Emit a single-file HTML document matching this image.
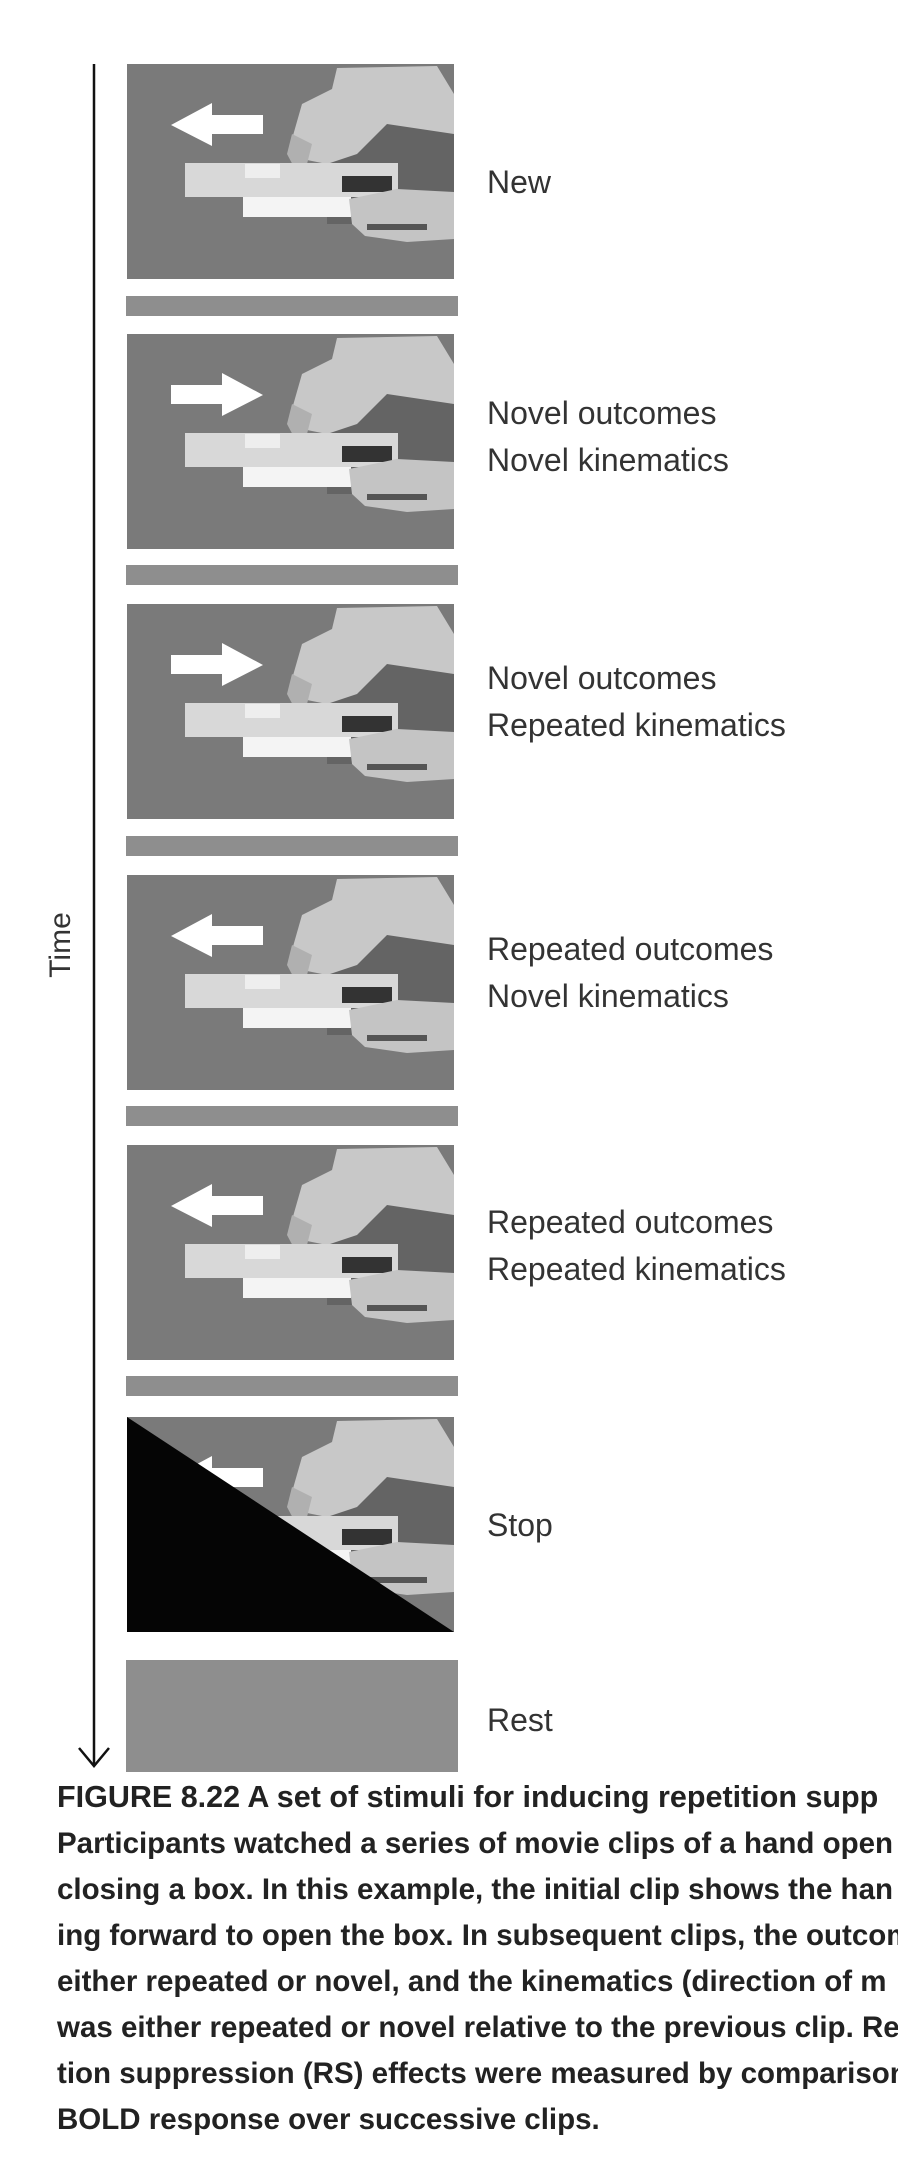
<!DOCTYPE html>
<html><head><meta charset="utf-8"><style>
html,body{margin:0;padding:0;background:#fff;}
svg{display:block;}
</style></head><body>
<svg width="898" height="2174" viewBox="0 0 898 2174" xmlns="http://www.w3.org/2000/svg">
<defs>
<g id="base">
  <rect x="0" y="0" width="327" height="215" fill="#7a7a7a"/>
  <rect x="200" y="60" width="127" height="100" fill="#555" opacity="0.6"/>
  <polygon points="210,4 310,2 327,30 327,70 260,60 230,90 200,100 175,95 165,75 175,40 205,25" fill="#c8c8c8"/>
  <polygon points="165,70 185,80 180,100 168,105 160,90" fill="#b0b0b0"/>
  <rect x="58" y="99" width="213" height="34" fill="#d8d8d8"/>
  <rect x="118" y="100" width="35" height="14" fill="#eee"/>
  <rect x="215" y="112" width="50" height="16" fill="#333"/>
  <rect x="116" y="133" width="108" height="20" fill="#f4f4f4"/>
  <polygon points="222,135 270,125 327,128 327,175 280,178 238,172 225,160" fill="#c4c4c4"/>
  <rect x="240" y="160" width="60" height="6" fill="#555"/>
</g>
<g id="la"><polygon points="44,61 85,39 85,51 136,51 136,70 85,70 85,82" fill="#fff"/></g>
<g id="ra"><polygon points="136,61 95,39 95,51 44,51 44,70 95,70 95,82" fill="#fff"/></g>
</defs>

<line x1="94" y1="64" x2="94" y2="1766" stroke="#111" stroke-width="2.5"/>
<polyline points="79,1748 94,1766 109,1748" fill="none" stroke="#111" stroke-width="2.5"/>
<text x="0" y="0" transform="translate(70,945) rotate(-90)" text-anchor="middle" font-family="Liberation Sans, sans-serif" font-size="30" fill="#333">Time</text>

<g transform="translate(127,64)"><use href="#base"/><use href="#la"/></g>
<rect x="126" y="296" width="332" height="20" fill="#8e8e8e"/>
<g transform="translate(127,334)"><use href="#base"/><use href="#ra"/></g>
<rect x="126" y="565" width="332" height="20" fill="#8e8e8e"/>
<g transform="translate(127,604)"><use href="#base"/><use href="#ra"/></g>
<rect x="126" y="836" width="332" height="20" fill="#8e8e8e"/>
<g transform="translate(127,875)"><use href="#base"/><use href="#la"/></g>
<rect x="126" y="1106" width="332" height="20" fill="#8e8e8e"/>
<g transform="translate(127,1145)"><use href="#base"/><use href="#la"/></g>
<rect x="126" y="1376" width="332" height="20" fill="#8e8e8e"/>
<g transform="translate(127,1417)"><use href="#base"/><use href="#la"/><polygon points="0,0 327,215 0,215" fill="#050505"/></g>
<rect x="126" y="1660" width="332" height="112" fill="#8e8e8e"/>

<g font-family="Liberation Sans, sans-serif" font-size="32" fill="#333">
<text x="487" y="193">New</text>
<text x="487" y="424">Novel outcomes</text>
<text x="487" y="471">Novel kinematics</text>
<text x="487" y="689">Novel outcomes</text>
<text x="487" y="736">Repeated kinematics</text>
<text x="487" y="960">Repeated outcomes</text>
<text x="487" y="1007">Novel kinematics</text>
<text x="487" y="1233">Repeated outcomes</text>
<text x="487" y="1280">Repeated kinematics</text>
<text x="487" y="1536">Stop</text>
<text x="487" y="1731">Rest</text>
</g>

<g font-family="Liberation Sans, sans-serif" font-size="29.5" font-weight="bold" fill="#222">
<text x="57" y="1807" font-size="30.5">FIGURE 8.22  A set of stimuli for inducing repetition supp</text>
<text x="57" y="1853">Participants watched a series of movie clips of a hand open</text>
<text x="57" y="1899">closing a box. In this example, the initial clip shows the han</text>
<text x="57" y="1945">ing forward to open the box. In subsequent clips, the outcom</text>
<text x="57" y="1991">either repeated or novel, and the kinematics (direction of m</text>
<text x="57" y="2037">was either repeated or novel relative to the previous clip. Re</text>
<text x="57" y="2083">tion suppression (RS) effects were measured by comparison</text>
<text x="57" y="2129">BOLD response over successive clips.</text>
</g>
</svg>
</body></html>
